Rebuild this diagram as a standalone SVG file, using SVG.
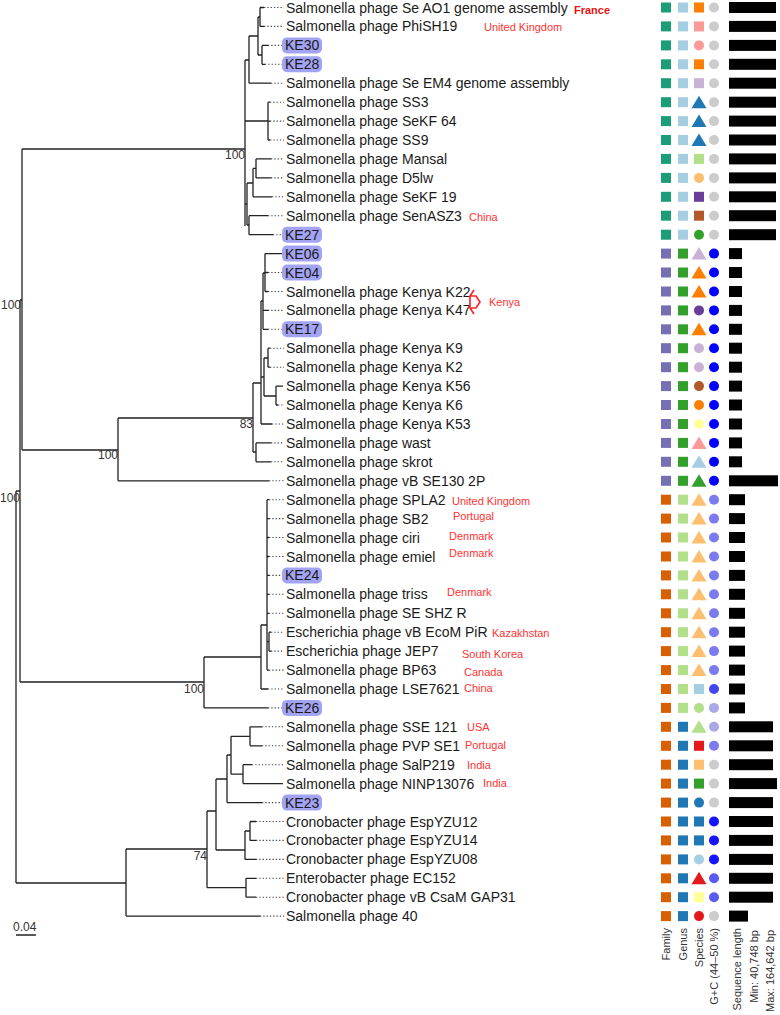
<svg xmlns="http://www.w3.org/2000/svg" width="780" height="1015" viewBox="0 0 780 1015">
<style>
.lb{font-family:"Liberation Sans",Arial,sans-serif;font-size:14px;fill:#1a1a1a}
.ct{font-family:"Liberation Sans",Arial,sans-serif;font-size:11px;fill:#ff3333}
.bs{font-family:"Liberation Sans",Arial,sans-serif;font-size:12px;fill:#333;text-anchor:end}
.ax{font-family:"Liberation Sans",Arial,sans-serif;font-size:11px;fill:#333;text-anchor:end}
.br{fill:none;stroke:#222;stroke-width:1.3}
.dt{fill:none;stroke:#444;stroke-width:1.1;stroke-dasharray:1.3 2}
.ke{fill:#a3a3f3}
.bar{fill:#000}
</style>
<defs>
<rect id="sq" x="-5" y="-5" width="10" height="10"/>
<circle id="ci" r="5"/>
<path id="tr" d="M0,-6.5 L7.5,6 L-7.5,6Z"/>
</defs>
<g id="connectors">
<path class="br" d="M16,491 V883 M16,491 H20 M16,883 H126
M20,300 V682 M20,300 H22 M20,682 H204
M22,149 V450 M22,149 H245 M22,450 H118
M245,60 V226 M245,60 H249 M245,121 H268 M245,204 H247
M249,36 V83.2 M249,36 H258 M249,83.2 H271
M258,17 V55 M258,17 H260 M258,55 H262
M260,7.5 V26.4 M260,7.5 H264 M260,26.4 H264
M262,45.4 V64.3 M262,45.4 H268 M262,64.3 H265
M268,102.2 V140 M268,102.2 H270 M268,140 H270 M268,121.1 H270
M247,183 V225 M247,183 H253 M247,225 H249
M253,168.4 V196.8 M253,168.4 H256 M253,196.8 H272
M256,158.9 V177.9 M256,158.9 H271 M256,177.9 H271
M249,215.7 V234.7 M249,215.7 H268 M249,234.7 H273
M118,418 V480.8 M118,418 H253 M118,480.8 H269
M253,383 V452 M253,383 H261 M253,452 H256
M256,442.9 V461.8 M256,442.9 H271 M256,461.8 H271
M261,301 V424 M261,301 H263 M261,377 H264 M261,424 H272
M263,273 V329.3 M263,273 H265 M263,310.4 H268 M263,329.3 H268
M265,253.6 V291.5 M265,253.6 H282 M265,272.5 H268 M265,291.5 H268
M264,358 V396 M264,358 H268 M264,396 H276
M268,348.2 V367.2 M268,348.2 H270 M268,367.2 H270
M276,386.1 V405 M276,386.1 H283 M276,405 H278
M204,657 V707.9 M204,657 H261 M204,707.9 H268
M261,625 V689 M261,625 H267 M261,689 H268
M267,499.7 V670.1 M267,499.7 H269 M267,518.6 H269 M267,537.5 H269 M267,556.5 H269 M267,575.4 H269 M267,594.3 H269 M267,613.3 H269 M267,670.1 H269 M267,641.7 H269
M269,632.2 V651.1 M269,632.2 H271 M269,651.1 H271
M126,849 V916.1 M126,849 H207 M126,916.1 H260
M207,811 V887.7 M207,811 H216 M207,887.7 H246
M246,878.3 V897.2 M246,878.3 H256 M246,897.2 H256
M216,779 V850 M216,779 H227 M216,850 H245
M245,831 V859.4 M245,831 H250 M245,859.4 H256
M250,821.5 V840.4 M250,821.5 H256 M250,840.4 H256
M227,755 V802.6 M227,755 H231 M227,802.6 H262
M231,736.3 V774.2 M231,736.3 H250 M231,774.2 H243
M250,726.8 V745.8 M250,726.8 H262 M250,745.8 H262
M243,764.7 V783.6 M243,764.7 H252 M243,783.6 H283"/>
<path class="dt" d="M264,7.5 H284 M264,26.4 H284 M268,45.4 H283 M265,64.3 H283 M271,83.2 H284 M270,102.2 H284 M270,121.1 H284 M270,140 H284 M271,158.9 H284 M271,177.9 H284 M272,196.8 H284 M268,215.7 H284 M273,234.7 H283
M268,272.5 H283 M268,291.5 H284 M268,310.4 H284 M268,329.3 H283 M270,348.2 H284 M270,367.2 H284 M278,405 H284 M272,424 H284 M271,442.9 H284 M271,461.8 H284 M269,480.8 H284
M269,499.7 H284 M269,518.6 H284 M269,537.5 H284 M269,556.5 H284 M269,575.4 H283 M269,594.3 H284 M269,613.3 H284 M271,632.2 H284 M271,651.1 H284 M269,670.1 H284 M268,689 H284 M268,707.9 H283
M262,726.8 H284 M262,745.8 H284 M252,764.7 H284 M262,802.6 H283 M256,821.5 H284 M256,840.4 H284 M256,859.4 H284 M256,878.3 H284 M256,897.2 H284 M260,916.1 H284"/>
</g>
<g id="bootstrap">
<text class="bs" x="21" y="309">100</text>
<text class="bs" x="20" y="502">100</text>
<text class="bs" x="245" y="159">100</text>
<text class="bs" x="118" y="459">100</text>
<text class="bs" x="253" y="428">83</text>
<text class="bs" x="204" y="693">100</text>
<text class="bs" x="207" y="860">74</text>
</g>
<g id="scale">
<text x="13" y="931" style="font-family:'Liberation Sans',Arial,sans-serif;font-size:12px;fill:#333">0.04</text>
<path d="M16,935 H36" stroke="#222" stroke-width="1.5"/>
</g>
<g id="leaves">
<g id="r00"><text class="lb" x="286" y="12.5">Salmonella phage Se AO1 genome assembly</text><use href="#sq" x="666" y="7.5" fill="#1b9e77"/><use href="#sq" x="683" y="7.5" fill="#a6cee3"/><use href="#sq" x="699" y="7.5" fill="#ff7f00"/><use href="#ci" x="714" y="7.5" fill="#cccccc"/><rect class="bar" x="729" y="2" width="47" height="11"/></g>
<g id="r01"><text class="lb" x="286" y="31.4">Salmonella phage PhiSH19</text><use href="#sq" x="666" y="26.4" fill="#1b9e77"/><use href="#sq" x="683" y="26.4" fill="#a6cee3"/><use href="#sq" x="699" y="26.4" fill="#fb9a99"/><use href="#ci" x="714" y="26.4" fill="#cccccc"/><rect class="bar" x="729" y="20.9" width="47" height="11"/></g>
<g id="r02"><rect class="ke" x="282" y="37.4" width="40" height="16" rx="5"/><text class="lb" x="285" y="50.4">KE30</text><use href="#sq" x="666" y="45.4" fill="#1b9e77"/><use href="#sq" x="683" y="45.4" fill="#a6cee3"/><use href="#ci" x="699" y="45.4" fill="#fb9a99"/><use href="#ci" x="714" y="45.4" fill="#cccccc"/><rect class="bar" x="729" y="39.9" width="47" height="11"/></g>
<g id="r03"><rect class="ke" x="282" y="56.3" width="40" height="16" rx="5"/><text class="lb" x="285" y="69.3">KE28</text><use href="#sq" x="666" y="64.3" fill="#1b9e77"/><use href="#sq" x="683" y="64.3" fill="#a6cee3"/><use href="#sq" x="699" y="64.3" fill="#ff7f00"/><use href="#ci" x="714" y="64.3" fill="#cccccc"/><rect class="bar" x="729" y="58.8" width="47" height="11"/></g>
<g id="r04"><text class="lb" x="286" y="88.2">Salmonella phage Se EM4 genome assembly</text><use href="#sq" x="666" y="83.2" fill="#1b9e77"/><use href="#sq" x="683" y="83.2" fill="#a6cee3"/><use href="#sq" x="699" y="83.2" fill="#cab2d6"/><use href="#ci" x="714" y="83.2" fill="#cccccc"/><rect class="bar" x="729" y="77.7" width="47" height="11"/></g>
<g id="r05"><text class="lb" x="286" y="107.2">Salmonella phage SS3</text><use href="#sq" x="666" y="102.2" fill="#1b9e77"/><use href="#sq" x="683" y="102.2" fill="#a6cee3"/><use href="#tr" x="699" y="102.2" fill="#1f78b4"/><use href="#ci" x="714" y="102.2" fill="#cccccc"/><rect class="bar" x="729" y="96.7" width="47" height="11"/></g>
<g id="r06"><text class="lb" x="286" y="126.1">Salmonella phage SeKF 64</text><use href="#sq" x="666" y="121.1" fill="#1b9e77"/><use href="#sq" x="683" y="121.1" fill="#a6cee3"/><use href="#tr" x="699" y="121.1" fill="#1f78b4"/><use href="#ci" x="714" y="121.1" fill="#cccccc"/><rect class="bar" x="729" y="115.6" width="47" height="11"/></g>
<g id="r07"><text class="lb" x="286" y="145">Salmonella phage SS9</text><use href="#sq" x="666" y="140" fill="#1b9e77"/><use href="#sq" x="683" y="140" fill="#a6cee3"/><use href="#tr" x="699" y="140" fill="#1f78b4"/><use href="#ci" x="714" y="140" fill="#cccccc"/><rect class="bar" x="729" y="134.5" width="47" height="11"/></g>
<g id="r08"><text class="lb" x="286" y="163.9">Salmonella phage Mansal</text><use href="#sq" x="666" y="158.9" fill="#1b9e77"/><use href="#sq" x="683" y="158.9" fill="#a6cee3"/><use href="#sq" x="699" y="158.9" fill="#b2df8a"/><use href="#ci" x="714" y="158.9" fill="#cccccc"/><rect class="bar" x="729" y="153.4" width="47" height="11"/></g>
<g id="r09"><text class="lb" x="286" y="182.9">Salmonella phage D5lw</text><use href="#sq" x="666" y="177.9" fill="#1b9e77"/><use href="#sq" x="683" y="177.9" fill="#a6cee3"/><use href="#ci" x="699" y="177.9" fill="#fdbf6f"/><use href="#ci" x="714" y="177.9" fill="#cccccc"/><rect class="bar" x="729" y="172.4" width="47" height="11"/></g>
<g id="r10"><text class="lb" x="286" y="201.8">Salmonella phage SeKF 19</text><use href="#sq" x="666" y="196.8" fill="#1b9e77"/><use href="#sq" x="683" y="196.8" fill="#a6cee3"/><use href="#sq" x="699" y="196.8" fill="#6a3d9a"/><use href="#ci" x="714" y="196.8" fill="#cccccc"/><rect class="bar" x="729" y="191.3" width="47" height="11"/></g>
<g id="r11"><text class="lb" x="286" y="220.7">Salmonella phage SenASZ3</text><text class="ct" x="469" y="221">China</text><use href="#sq" x="666" y="215.7" fill="#1b9e77"/><use href="#sq" x="683" y="215.7" fill="#a6cee3"/><use href="#sq" x="699" y="215.7" fill="#b15928"/><use href="#ci" x="714" y="215.7" fill="#cccccc"/><rect class="bar" x="729" y="210.2" width="47" height="11"/></g>
<g id="r12"><rect class="ke" x="282" y="226.7" width="40" height="16" rx="5"/><text class="lb" x="285" y="239.7">KE27</text><use href="#sq" x="666" y="234.7" fill="#1b9e77"/><use href="#sq" x="683" y="234.7" fill="#a6cee3"/><use href="#ci" x="699" y="234.7" fill="#33a02c"/><use href="#ci" x="714" y="234.7" fill="#cccccc"/><rect class="bar" x="729" y="229.2" width="47" height="11"/></g>
<g id="r13"><rect class="ke" x="282" y="245.6" width="40" height="16" rx="5"/><text class="lb" x="285" y="258.6">KE06</text><use href="#sq" x="666" y="253.6" fill="#7570b3"/><use href="#sq" x="683" y="253.6" fill="#33a02c"/><use href="#tr" x="699" y="253.6" fill="#cab2d6"/><use href="#ci" x="714" y="253.6" fill="#0000ff"/><rect class="bar" x="729" y="248.1" width="13" height="11"/></g>
<g id="r14"><rect class="ke" x="282" y="264.5" width="40" height="16" rx="5"/><text class="lb" x="285" y="277.5">KE04</text><use href="#sq" x="666" y="272.5" fill="#7570b3"/><use href="#sq" x="683" y="272.5" fill="#33a02c"/><use href="#tr" x="699" y="272.5" fill="#ff7f00"/><use href="#ci" x="714" y="272.5" fill="#0000ff"/><rect class="bar" x="729" y="267" width="13" height="11"/></g>
<g id="r15"><text class="lb" x="286" y="296.5">Salmonella phage Kenya K22</text><use href="#sq" x="666" y="291.5" fill="#7570b3"/><use href="#sq" x="683" y="291.5" fill="#33a02c"/><use href="#tr" x="699" y="291.5" fill="#ff7f00"/><use href="#ci" x="714" y="291.5" fill="#0000ff"/><rect class="bar" x="729" y="286" width="13" height="11"/></g>
<g id="r16"><text class="lb" x="286" y="315.4">Salmonella phage Kenya K47</text><use href="#sq" x="666" y="310.4" fill="#7570b3"/><use href="#sq" x="683" y="310.4" fill="#33a02c"/><use href="#ci" x="699" y="310.4" fill="#6a3d9a"/><use href="#ci" x="714" y="310.4" fill="#0000ff"/><rect class="bar" x="729" y="304.9" width="13" height="11"/></g>
<g id="kenya"><path d="M474,290 L470,296 L476,296 L480,302 L476,308 L470,308 L474,314 M470,296 V308" fill="none" stroke="#ff2020" stroke-width="1.6"/><text class="ct" x="489" y="306">Kenya</text></g>
<g id="r17"><rect class="ke" x="282" y="321.3" width="40" height="16" rx="5"/><text class="lb" x="285" y="334.3">KE17</text><use href="#sq" x="666" y="329.3" fill="#7570b3"/><use href="#sq" x="683" y="329.3" fill="#33a02c"/><use href="#tr" x="699" y="329.3" fill="#ff7f00"/><use href="#ci" x="714" y="329.3" fill="#0000ff"/><rect class="bar" x="729" y="323.8" width="13" height="11"/></g>
<g id="r18"><text class="lb" x="286" y="353.2">Salmonella phage Kenya K9</text><use href="#sq" x="666" y="348.2" fill="#7570b3"/><use href="#sq" x="683" y="348.2" fill="#33a02c"/><use href="#ci" x="699" y="348.2" fill="#cab2d6"/><use href="#ci" x="714" y="348.2" fill="#0000ff"/><rect class="bar" x="729" y="342.7" width="13" height="11"/></g>
<g id="r19"><text class="lb" x="286" y="372.2">Salmonella phage Kenya K2</text><use href="#sq" x="666" y="367.2" fill="#7570b3"/><use href="#sq" x="683" y="367.2" fill="#33a02c"/><use href="#ci" x="699" y="367.2" fill="#cab2d6"/><use href="#ci" x="714" y="367.2" fill="#0000ff"/><rect class="bar" x="729" y="361.7" width="13" height="11"/></g>
<g id="r20"><text class="lb" x="286" y="391.1">Salmonella phage Kenya K56</text><use href="#sq" x="666" y="386.1" fill="#7570b3"/><use href="#sq" x="683" y="386.1" fill="#33a02c"/><use href="#ci" x="699" y="386.1" fill="#b15928"/><use href="#ci" x="714" y="386.1" fill="#0000ff"/><rect class="bar" x="729" y="380.6" width="13" height="11"/></g>
<g id="r21"><text class="lb" x="286" y="410">Salmonella phage Kenya K6</text><use href="#sq" x="666" y="405" fill="#7570b3"/><use href="#sq" x="683" y="405" fill="#33a02c"/><use href="#ci" x="699" y="405" fill="#ff7f00"/><use href="#ci" x="714" y="405" fill="#0000ff"/><rect class="bar" x="729" y="399.5" width="13" height="11"/></g>
<g id="r22"><text class="lb" x="286" y="429">Salmonella phage Kenya K53</text><use href="#sq" x="666" y="424" fill="#7570b3"/><use href="#sq" x="683" y="424" fill="#33a02c"/><use href="#ci" x="699" y="424" fill="#ffff99"/><use href="#ci" x="714" y="424" fill="#0000ff"/><rect class="bar" x="729" y="418.5" width="13" height="11"/></g>
<g id="r23"><text class="lb" x="286" y="447.9">Salmonella phage wast</text><use href="#sq" x="666" y="442.9" fill="#7570b3"/><use href="#sq" x="683" y="442.9" fill="#33a02c"/><use href="#tr" x="699" y="442.9" fill="#fb9a99"/><use href="#ci" x="714" y="442.9" fill="#0000ff"/><rect class="bar" x="729" y="437.4" width="13" height="11"/></g>
<g id="r24"><text class="lb" x="286" y="466.8">Salmonella phage skrot</text><use href="#sq" x="666" y="461.8" fill="#7570b3"/><use href="#sq" x="683" y="461.8" fill="#33a02c"/><use href="#tr" x="699" y="461.8" fill="#a6cee3"/><use href="#ci" x="714" y="461.8" fill="#0000ff"/><rect class="bar" x="729" y="456.3" width="13" height="11"/></g>
<g id="r25"><text class="lb" x="286" y="485.8">Salmonella phage vB SE130 2P</text><use href="#sq" x="666" y="480.8" fill="#7570b3"/><use href="#sq" x="683" y="480.8" fill="#33a02c"/><use href="#tr" x="699" y="480.8" fill="#33a02c"/><use href="#ci" x="714" y="480.8" fill="#0000ff"/><rect class="bar" x="729" y="475.3" width="49" height="11"/></g>
<g id="r26"><text class="lb" x="286" y="504.7">Salmonella phage SPLA2</text><text class="ct" x="452" y="505">United Kingdom</text><use href="#sq" x="666" y="499.7" fill="#d95f02"/><use href="#sq" x="683" y="499.7" fill="#b2df8a"/><use href="#tr" x="699" y="499.7" fill="#fdbf6f"/><use href="#ci" x="714" y="499.7" fill="#7b7bef"/><rect class="bar" x="729" y="494.2" width="16" height="11"/></g>
<g id="r27"><text class="lb" x="286" y="523.6">Salmonella phage SB2</text><text class="ct" x="453" y="520">Portugal</text><use href="#sq" x="666" y="518.6" fill="#d95f02"/><use href="#sq" x="683" y="518.6" fill="#b2df8a"/><use href="#tr" x="699" y="518.6" fill="#fdbf6f"/><use href="#ci" x="714" y="518.6" fill="#7b7bef"/><rect class="bar" x="729" y="513.1" width="16" height="11"/></g>
<g id="r28"><text class="lb" x="286" y="542.5">Salmonella phage ciri</text><text class="ct" x="449" y="540">Denmark</text><use href="#sq" x="666" y="537.5" fill="#d95f02"/><use href="#sq" x="683" y="537.5" fill="#b2df8a"/><use href="#tr" x="699" y="537.5" fill="#fdbf6f"/><use href="#ci" x="714" y="537.5" fill="#7b7bef"/><rect class="bar" x="729" y="532" width="16" height="11"/></g>
<g id="r29"><text class="lb" x="286" y="561.5">Salmonella phage emiel</text><text class="ct" x="449" y="557">Denmark</text><use href="#sq" x="666" y="556.5" fill="#d95f02"/><use href="#sq" x="683" y="556.5" fill="#b2df8a"/><use href="#tr" x="699" y="556.5" fill="#fdbf6f"/><use href="#ci" x="714" y="556.5" fill="#7b7bef"/><rect class="bar" x="729" y="551" width="16" height="11"/></g>
<g id="r30"><rect class="ke" x="282" y="567.4" width="40" height="16" rx="5"/><text class="lb" x="285" y="580.4">KE24</text><use href="#sq" x="666" y="575.4" fill="#d95f02"/><use href="#sq" x="683" y="575.4" fill="#b2df8a"/><use href="#tr" x="699" y="575.4" fill="#fdbf6f"/><use href="#ci" x="714" y="575.4" fill="#7b7bef"/><rect class="bar" x="729" y="569.9" width="16" height="11"/></g>
<g id="r31"><text class="lb" x="286" y="599.3">Salmonella phage triss</text><text class="ct" x="447" y="596">Denmark</text><use href="#sq" x="666" y="594.3" fill="#d95f02"/><use href="#sq" x="683" y="594.3" fill="#b2df8a"/><use href="#tr" x="699" y="594.3" fill="#fdbf6f"/><use href="#ci" x="714" y="594.3" fill="#7b7bef"/><rect class="bar" x="729" y="588.8" width="16" height="11"/></g>
<g id="r32"><text class="lb" x="286" y="618.3">Salmonella phage SE SHZ R</text><use href="#sq" x="666" y="613.3" fill="#d95f02"/><use href="#sq" x="683" y="613.3" fill="#b2df8a"/><use href="#tr" x="699" y="613.3" fill="#fdbf6f"/><use href="#ci" x="714" y="613.3" fill="#7b7bef"/><rect class="bar" x="729" y="607.8" width="16" height="11"/></g>
<g id="r33"><text class="lb" x="286" y="637.2">Escherichia phage vB EcoM PiR</text><text class="ct" x="492" y="637">Kazakhstan</text><use href="#sq" x="666" y="632.2" fill="#d95f02"/><use href="#sq" x="683" y="632.2" fill="#b2df8a"/><use href="#tr" x="699" y="632.2" fill="#fdbf6f"/><use href="#ci" x="714" y="632.2" fill="#7b7bef"/><rect class="bar" x="729" y="626.7" width="16" height="11"/></g>
<g id="r34"><text class="lb" x="286" y="656.1">Escherichia phage JEP7</text><text class="ct" x="462" y="658">South Korea</text><use href="#sq" x="666" y="651.1" fill="#d95f02"/><use href="#sq" x="683" y="651.1" fill="#b2df8a"/><use href="#tr" x="699" y="651.1" fill="#fdbf6f"/><use href="#ci" x="714" y="651.1" fill="#7b7bef"/><rect class="bar" x="729" y="645.6" width="16" height="11"/></g>
<g id="r35"><text class="lb" x="286" y="675.1">Salmonella phage BP63</text><text class="ct" x="464" y="676">Canada</text><use href="#sq" x="666" y="670.1" fill="#d95f02"/><use href="#sq" x="683" y="670.1" fill="#b2df8a"/><use href="#tr" x="699" y="670.1" fill="#fdbf6f"/><use href="#ci" x="714" y="670.1" fill="#7b7bef"/><rect class="bar" x="729" y="664.6" width="16" height="11"/></g>
<g id="r36"><text class="lb" x="286" y="694">Salmonella phage LSE7621</text><text class="ct" x="464" y="692">China</text><use href="#sq" x="666" y="689" fill="#d95f02"/><use href="#sq" x="683" y="689" fill="#b2df8a"/><use href="#sq" x="699" y="689" fill="#a6cee3"/><use href="#ci" x="714" y="689" fill="#4646f0"/><rect class="bar" x="729" y="683.5" width="16" height="11"/></g>
<g id="r37"><rect class="ke" x="282" y="699.9" width="40" height="16" rx="5"/><text class="lb" x="285" y="712.9">KE26</text><use href="#sq" x="666" y="707.9" fill="#d95f02"/><use href="#sq" x="683" y="707.9" fill="#b2df8a"/><use href="#ci" x="699" y="707.9" fill="#b2df8a"/><use href="#ci" x="714" y="707.9" fill="#a9a9e8"/><rect class="bar" x="729" y="702.4" width="16" height="11"/></g>
<g id="r38"><text class="lb" x="286" y="731.8">Salmonella phage SSE 121</text><text class="ct" x="467" y="731">USA</text><use href="#sq" x="666" y="726.8" fill="#d95f02"/><use href="#sq" x="683" y="726.8" fill="#1f78b4"/><use href="#tr" x="699" y="726.8" fill="#b2df8a"/><use href="#ci" x="714" y="726.8" fill="#a9a9e8"/><rect class="bar" x="729" y="721.3" width="44" height="11"/></g>
<g id="r39"><text class="lb" x="286" y="750.8">Salmonella phage PVP SE1</text><text class="ct" x="465" y="749">Portugal</text><use href="#sq" x="666" y="745.8" fill="#d95f02"/><use href="#sq" x="683" y="745.8" fill="#1f78b4"/><use href="#sq" x="699" y="745.8" fill="#e31a1c"/><use href="#ci" x="714" y="745.8" fill="#7b7bef"/><rect class="bar" x="729" y="740.3" width="44" height="11"/></g>
<g id="r40"><text class="lb" x="286" y="769.7">Salmonella phage SalP219</text><text class="ct" x="467" y="769">India</text><use href="#sq" x="666" y="764.7" fill="#d95f02"/><use href="#sq" x="683" y="764.7" fill="#1f78b4"/><use href="#sq" x="699" y="764.7" fill="#fdbf6f"/><use href="#ci" x="714" y="764.7" fill="#cccccc"/><rect class="bar" x="729" y="759.2" width="44" height="11"/></g>
<g id="r41"><text class="lb" x="286" y="788.6">Salmonella phage NINP13076</text><text class="ct" x="483" y="787">India</text><use href="#sq" x="666" y="783.6" fill="#d95f02"/><use href="#sq" x="683" y="783.6" fill="#1f78b4"/><use href="#sq" x="699" y="783.6" fill="#33a02c"/><use href="#ci" x="714" y="783.6" fill="#cccccc"/><rect class="bar" x="729" y="778.1" width="48" height="11"/></g>
<g id="r42"><rect class="ke" x="282" y="794.6" width="40" height="16" rx="5"/><text class="lb" x="285" y="807.6">KE23</text><use href="#sq" x="666" y="802.6" fill="#d95f02"/><use href="#sq" x="683" y="802.6" fill="#1f78b4"/><use href="#ci" x="699" y="802.6" fill="#1f78b4"/><use href="#ci" x="714" y="802.6" fill="#cccccc"/><rect class="bar" x="729" y="797.1" width="44" height="11"/></g>
<g id="r43"><text class="lb" x="286" y="826.5">Cronobacter phage EspYZU12</text><use href="#sq" x="666" y="821.5" fill="#d95f02"/><use href="#sq" x="683" y="821.5" fill="#1f78b4"/><use href="#sq" x="699" y="821.5" fill="#1f78b4"/><use href="#ci" x="714" y="821.5" fill="#1414ff"/><rect class="bar" x="729" y="816" width="44" height="11"/></g>
<g id="r44"><text class="lb" x="286" y="845.4">Cronobacter phage EspYZU14</text><use href="#sq" x="666" y="840.4" fill="#d95f02"/><use href="#sq" x="683" y="840.4" fill="#1f78b4"/><use href="#sq" x="699" y="840.4" fill="#1f78b4"/><use href="#ci" x="714" y="840.4" fill="#1414ff"/><rect class="bar" x="729" y="834.9" width="44" height="11"/></g>
<g id="r45"><text class="lb" x="286" y="864.4">Cronobacter phage EspYZU08</text><use href="#sq" x="666" y="859.4" fill="#d95f02"/><use href="#sq" x="683" y="859.4" fill="#1f78b4"/><use href="#ci" x="699" y="859.4" fill="#a6cee3"/><use href="#ci" x="714" y="859.4" fill="#1414ff"/><rect class="bar" x="729" y="853.9" width="44" height="11"/></g>
<g id="r46"><text class="lb" x="286" y="883.3">Enterobacter phage EC152</text><use href="#sq" x="666" y="878.3" fill="#d95f02"/><use href="#sq" x="683" y="878.3" fill="#1f78b4"/><use href="#tr" x="699" y="878.3" fill="#e31a1c"/><use href="#ci" x="714" y="878.3" fill="#5a5af0"/><rect class="bar" x="729" y="872.8" width="44" height="11"/></g>
<g id="r47"><text class="lb" x="286" y="902.2">Cronobacter phage vB CsaM GAP31</text><use href="#sq" x="666" y="897.2" fill="#d95f02"/><use href="#sq" x="683" y="897.2" fill="#1f78b4"/><use href="#sq" x="699" y="897.2" fill="#ffff99"/><use href="#ci" x="714" y="897.2" fill="#5a5af0"/><rect class="bar" x="729" y="891.7" width="44" height="11"/></g>
<g id="r48"><text class="lb" x="286" y="921.1">Salmonella phage 40</text><use href="#sq" x="666" y="916.1" fill="#d95f02"/><use href="#sq" x="683" y="916.1" fill="#1f78b4"/><use href="#ci" x="699" y="916.1" fill="#e31a1c"/><use href="#ci" x="714" y="916.1" fill="#cccccc"/><rect class="bar" x="729" y="910.6" width="19" height="11"/></g>
</g>
<g id="countries">
<text class="ct" x="574" y="14" style="font-weight:bold;fill:#ee1111">France</text>
<text class="ct" x="484" y="31">United Kingdom</text>
</g>
<g id="legend">
<text class="ax" transform="translate(670,928) rotate(-90)">Family</text>
<text class="ax" transform="translate(687,928) rotate(-90)">Genus</text>
<text class="ax" transform="translate(703,928) rotate(-90)">Species</text>
<text class="ax" transform="translate(718,928) rotate(-90)">G+C (44–50 %)</text>
<text class="ax" transform="translate(741,928) rotate(-90)">Sequence length</text>
<text class="ax" transform="translate(758,930) rotate(-90)">Min: 40,748 bp</text>
<text class="ax" transform="translate(774,930) rotate(-90)">Max: 164,642 bp</text>
</g>
</svg>
